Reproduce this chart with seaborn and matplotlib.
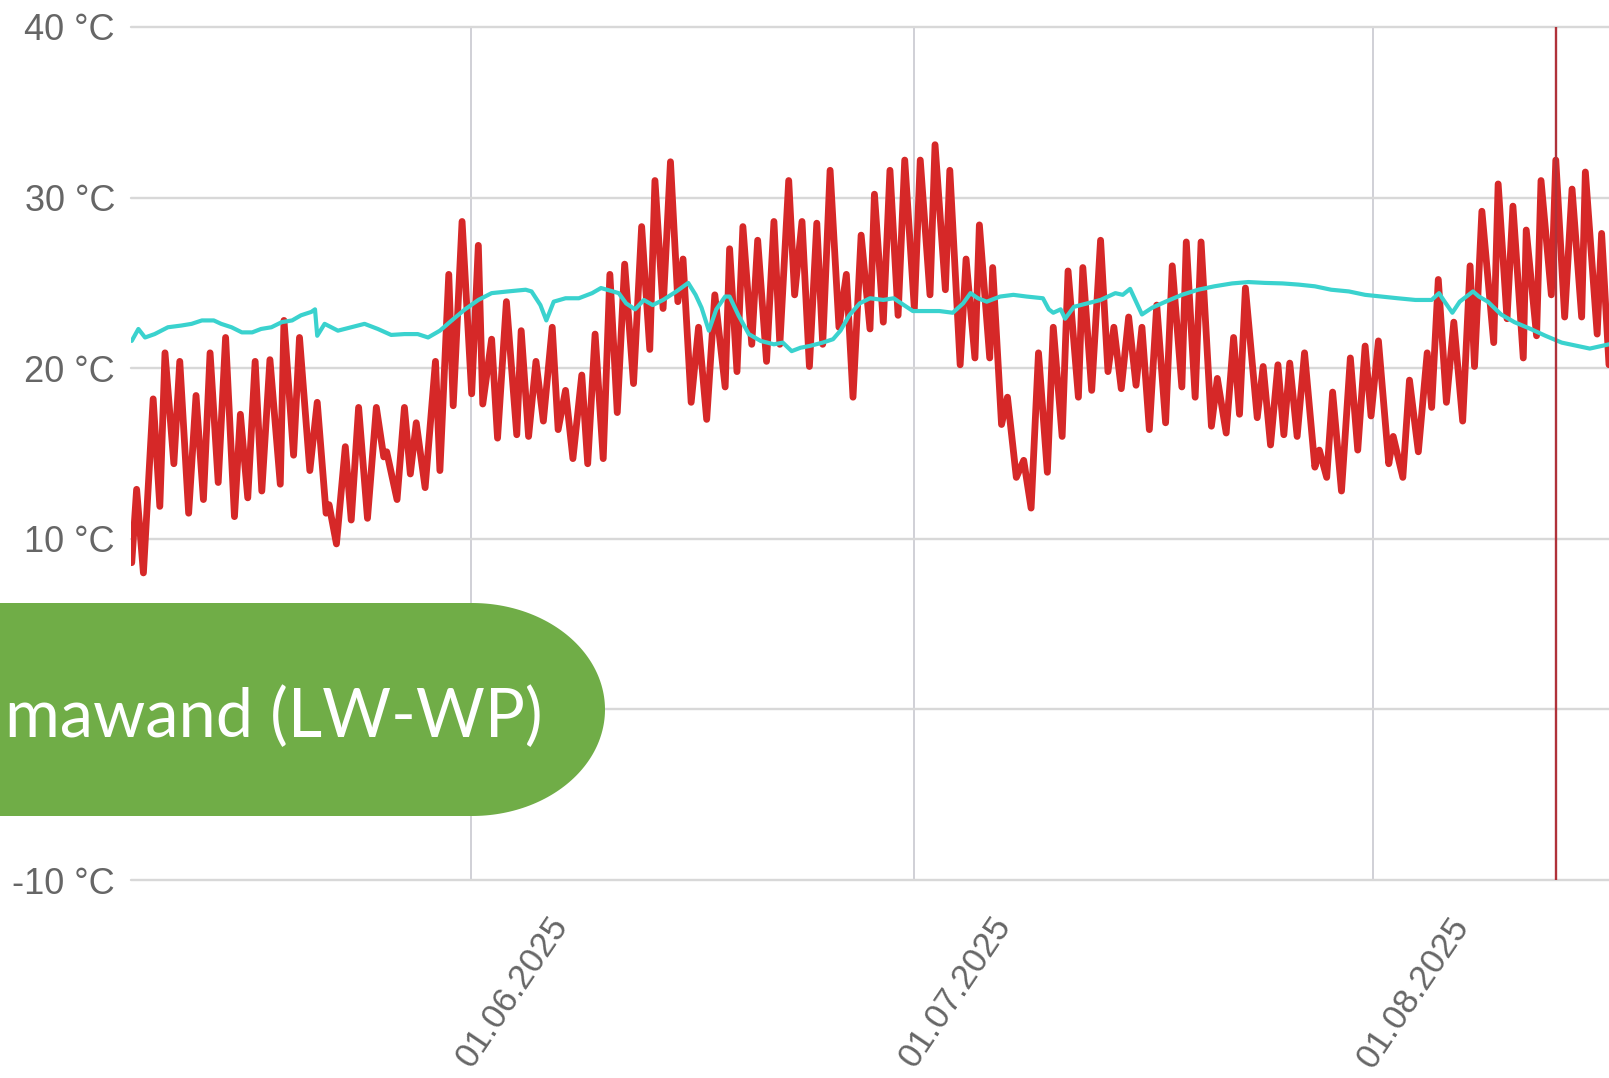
import numpy as np
import pandas as pd
import matplotlib
matplotlib.use("Agg")
import matplotlib.pyplot as plt
import seaborn as sns
from matplotlib.transforms import ScaledTranslation
from matplotlib.patches import Polygon

# ---------------- data ----------------
start_date = "2025-05-09"
span_days = 100

# outdoor temperature (red), day offsets from start_date
red_days = [0.05, 0.38, 0.84, 1.5, 1.95, 2.3, 2.9, 3.3, 3.9, 4.4, 4.9, 5.35, 5.9, 6.4, 7.0,
            7.4, 7.9, 8.4, 8.85, 9.4, 10.1, 10.35, 11.0, 11.4, 12.1, 12.6, 13.2, 13.4, 13.9,
            14.5, 14.9, 15.4, 16.0, 16.6, 17.1, 17.3, 18.0, 18.5, 18.9, 19.3, 19.9, 20.6,
            20.9, 21.5, 21.8, 22.4, 23.05, 23.5, 23.8, 24.4, 24.8, 25.4, 26.1, 26.4, 26.9,
            27.4, 27.9, 28.5, 28.9, 29.4, 29.9, 30.5, 30.9, 31.4, 31.95, 32.4, 32.9, 33.4,
            34.0, 34.55, 35.1, 35.45, 36.0, 36.5, 37.0, 37.35, 37.9, 38.4, 38.95, 39.5,
            40.2, 40.5, 41.0, 41.4, 42.0, 42.4, 43.0, 43.5, 43.9, 44.5, 44.9, 45.4, 45.9,
            46.4, 46.8, 47.3, 47.9, 48.4, 48.85, 49.4, 50.0, 50.3, 50.9, 51.35, 51.9,
            52.35, 53.0, 53.4, 54.06, 54.4, 55.1, 55.4, 56.1, 56.5, 57.1, 57.4, 58.1,
            58.3, 58.9, 59.3, 59.9, 60.4, 60.9, 61.4, 62.0, 62.4, 63.0, 63.4, 64.1, 64.4,
            65.0, 65.6, 66.1, 66.5, 67.0, 67.5, 68.0, 68.4, 68.9, 69.4, 70.0, 70.45, 71.1,
            71.4, 72.0, 72.4, 73.1, 73.5, 74.1, 74.6, 75.0, 75.4, 76.2, 76.6, 77.1, 77.6,
            78.0, 78.4, 78.9, 79.4, 80.1, 80.4, 80.9, 81.3, 81.9, 82.5, 83.0, 83.5, 83.9,
            84.4, 85.1, 85.4, 86.05, 86.5, 87.1, 87.7, 88.0, 88.45, 89.0, 89.5, 90.1,
            90.6, 90.9, 91.4, 92.2, 92.5, 93.1, 93.5, 94.2, 94.4, 95.1, 95.4, 96.1, 96.4,
            97.0, 97.5, 98.15, 98.4, 99.2, 99.5, 100.0]
red_temps = [8.6, 12.9, 8.0, 18.2, 11.9, 20.9, 14.4, 20.4, 11.5, 18.4, 12.3, 20.9, 13.3, 21.8, 11.3,
             17.3, 12.4, 20.4, 12.8, 20.5, 13.2, 22.8, 14.9, 21.8, 14.0, 18.0, 11.5, 12.0, 9.7,
             15.4, 11.1, 17.7, 11.2, 17.7, 14.8, 15.1, 12.3, 17.7, 13.8, 16.8, 13.0, 20.4,
             14.0, 25.5, 17.8, 28.6, 18.5, 27.2, 17.9, 21.7, 15.9, 23.9, 16.1, 22.2, 16.0,
             20.4, 16.9, 22.4, 16.4, 18.7, 14.7, 19.6, 14.4, 22.0, 14.7, 25.5, 17.4, 26.1,
             19.1, 28.3, 21.1, 31.0, 23.5, 32.1, 23.9, 26.4, 18.0, 22.4, 17.0, 24.3,
             18.9, 27.0, 19.8, 28.3, 21.4, 27.5, 20.4, 28.6, 21.4, 31.0, 24.3, 28.6, 20.1,
             28.5, 21.4, 31.6, 22.4, 25.5, 18.3, 27.8, 22.3, 30.2, 22.7, 31.6, 23.1,
             32.2, 23.5, 32.2, 24.3, 33.1, 24.6, 31.6, 20.2, 26.4, 20.6, 28.4, 20.6,
             25.9, 16.7, 18.3, 13.6, 14.6, 11.8, 20.9, 13.9, 22.4, 16.0, 25.7, 18.3, 25.9,
             18.7, 27.5, 19.8, 22.4, 18.8, 23.0, 19.0, 22.4, 16.4, 23.7, 16.8, 26.0, 18.9,
             27.4, 18.3, 27.4, 16.6, 19.4, 16.2, 21.8, 17.3, 24.7, 17.1, 20.1, 15.5, 20.2,
             16.1, 20.3, 16.0, 20.9, 14.2, 15.2, 13.6, 18.6, 12.8, 20.6, 15.2, 21.3, 17.2,
             21.6, 14.4, 16.0, 13.6, 19.3, 15.1, 20.9, 17.7, 25.2, 18.0, 22.7, 16.9,
             26.0, 20.1, 29.2, 21.5, 30.8, 22.9, 29.5, 20.6, 28.1, 21.9, 31.0, 24.3, 32.2,
             23.0, 30.5, 23.0, 31.5, 22.0, 27.9, 20.2]

# indoor temperature (cyan)
cyan_days = [0.05, 0.5, 0.95, 1.6, 2.5, 3.4, 4.1, 4.8, 5.6, 6.1, 6.8, 7.5, 8.2, 8.8, 9.5, 10.2,
             10.9, 11.5, 12.2, 12.45, 12.6, 13.1, 14.0, 14.9, 15.8, 16.7, 17.6, 18.5, 19.4,
             20.1, 20.9, 21.7, 22.6, 23.5, 24.4, 25.5, 26.7, 27.1, 27.7, 28.1, 28.6, 29.4,
             30.3, 31.2, 31.8, 33.0, 33.5, 34.1, 34.7, 35.3, 36.0, 36.9, 37.7, 38.2, 38.6,
             39.1, 39.6, 40.2, 40.5, 41.1, 41.8, 42.6, 43.5, 44.1, 44.7, 45.3, 45.9, 46.8,
             47.5, 48.0, 48.6, 49.3, 50.0, 50.9, 51.6, 52.3, 52.9, 53.8, 54.7, 55.6, 56.3,
             56.8, 57.3, 57.9, 58.8, 59.7, 60.6, 61.7, 62.1, 62.4, 62.9, 63.2, 63.8, 64.7,
             65.6, 66.6, 67.1, 67.6, 68.4, 69.1, 70.0, 71.1, 72.2, 73.3, 74.5, 75.6, 76.7,
             77.9, 79.0, 80.1, 81.2, 82.4, 83.5, 84.6, 85.7, 86.9, 88.0, 88.5, 88.8, 89.4,
             89.9, 90.8, 91.2, 91.8, 92.7, 93.6, 94.7, 95.7, 96.8, 97.9, 98.7, 100.0]
cyan_temps = [21.6, 22.3, 21.8, 22.0, 22.4, 22.5, 22.6, 22.8, 22.8, 22.6, 22.4, 22.1, 22.1, 22.3,
              22.4, 22.7, 22.8, 23.1, 23.3, 23.45, 21.9, 22.6, 22.2, 22.4, 22.6, 22.3, 21.95,
              22.0, 22.0, 21.8, 22.2, 22.8, 23.45, 24.0, 24.4, 24.5, 24.6, 24.5, 23.7, 22.8,
              23.9, 24.1, 24.1, 24.4, 24.7, 24.4, 23.8, 23.45, 24.0, 23.7, 24.0, 24.5, 25.0,
              24.3, 23.55, 22.2, 23.45, 24.2, 24.2, 23.1, 22.0, 21.6, 21.4, 21.5, 21.0, 21.2,
              21.3, 21.5, 21.7, 22.2, 23.1, 23.8, 24.1, 24.0, 24.1, 23.7, 23.35, 23.35, 23.35,
              23.25, 23.8, 24.4, 24.1, 23.9, 24.2, 24.3, 24.2, 24.1, 23.45, 23.25, 23.45,
              22.9, 23.6, 23.8, 24.0, 24.4, 24.3, 24.65, 23.15, 23.55, 23.9, 24.3, 24.6, 24.8,
              24.97, 25.05, 25.0, 24.97, 24.9, 24.8, 24.6, 24.5, 24.3, 24.2, 24.1, 24.0,
              24.0, 24.4, 24.0, 23.25, 23.9, 24.5, 24.2, 23.9, 23.15, 22.7, 22.3, 21.9, 21.5,
              21.3, 21.15, 21.4]

marker_day = 96.4
ytick_values = [-10, 0, 10, 20, 30, 40]
# the "0 °C" label is hidden behind the green banner in the reference
ytick_labels = ["-10 °C", "", "10 °C", "20 °C", "30 °C", "40 °C"]
xtick_dates = ["2025-06-01", "2025-07-01", "2025-08-01"]
xtick_labels = ["01.06.2025", "01.07.2025", "01.08.2025"]
banner_text = "mawand (LW-WP)"

# ---------------- build frames ----------------
t0 = pd.Timestamp(start_date)
outdoor = pd.DataFrame({"time": t0 + pd.to_timedelta(red_days, unit="D"), "temp": red_temps})
indoor = pd.DataFrame({"time": t0 + pd.to_timedelta(cyan_days, unit="D"), "temp": cyan_temps})

sns.set_style("white")
plt.rcParams["font.family"] = ["Liberation Sans", "DejaVu Sans"]

W, H = 1609, 1078
fig = plt.figure(figsize=(W / 100, H / 100), dpi=100)
ax = fig.add_axes([131 / W, 1 - 880 / H, 1 - 131 / W, (880 - 27) / H])

sns.lineplot(data=outdoor, x="time", y="temp", ax=ax, color="#D62828", lw=4.9,
             estimator=None, sort=False, zorder=3, solid_joinstyle="round",
             solid_capstyle="round")
sns.lineplot(data=indoor, x="time", y="temp", ax=ax, color="#3AD2CE", lw=3.0,
             estimator=None, sort=False, zorder=4, solid_joinstyle="round")
ax.axvline(t0 + pd.Timedelta(days=marker_day), color="#B0323A", lw=1.7, zorder=5)

ax.set_xlim(t0, t0 + pd.Timedelta(days=span_days))
ax.set_ylim(-10, 40)
ax.set_yticks(ytick_values)
ax.set_yticklabels(ytick_labels)
ax.set_xticks(pd.to_datetime(xtick_dates))
ax.set_xticklabels(xtick_labels)
ax.set_xlabel("")
ax.set_ylabel("")

ax.set_axisbelow(True)
ax.yaxis.grid(True, color="#D8D8D8", lw=1.7)
ax.xaxis.grid(True, color="#CDCDD3", lw=1.3)
for gl in ax.get_ygridlines():
    gl.set_clip_on(False)
for s in ax.spines.values():
    s.set_visible(False)

ax.tick_params(axis="y", length=0, pad=11.5, labelsize=26, labelcolor="#666666")
ax.tick_params(axis="x", length=0, pad=0, labelsize=25, labelcolor="#666666")
offset = ScaledTranslation(0.90, -0.40, fig.dpi_scale_trans)
for lab in ax.get_xticklabels():
    lab.set_rotation(56)
    lab.set_rotation_mode("anchor")
    lab.set_ha("right")
    lab.set_va("center")
    lab.set_transform(lab.get_transform() + offset)

# green banner with elliptical right end (pixel geometry)
x_straight, x_right, y_top, y_bot = 472, 605, 603, 816
cy = (y_top + y_bot) / 2
ry = (y_bot - y_top) / 2
rx = x_right - x_straight
th = np.linspace(np.pi / 2, -np.pi / 2, 120)
xs = np.concatenate([[-5], x_straight + rx * np.cos(th), [-5]])
ys = np.concatenate([[y_top], cy - ry * np.sin(th), [y_bot]])
poly = Polygon(np.column_stack([xs / W, 1 - ys / H]), closed=True,
               transform=fig.transFigure, facecolor="#70AD47", edgecolor="none", zorder=10)
fig.patches.append(poly)
fig.text(5 / W, 1 - 737 / H, banner_text, color="white", fontsize=48,
         family=["Lato", "DejaVu Sans"], ha="left", va="baseline", zorder=11)

fig.savefig("out.png", dpi=100)
